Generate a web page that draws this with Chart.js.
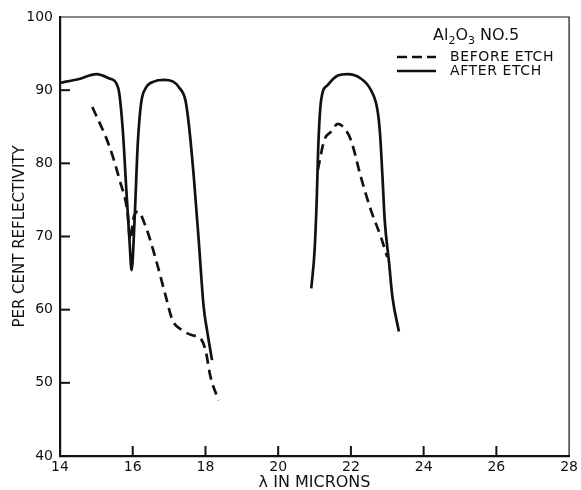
<!DOCTYPE html>
<html>
<head>
<meta charset="utf-8">
<script src="https://cdn.jsdelivr.net/npm/chart.js@4.4.1/dist/chart.umd.min.js"></script>
<style>
  html, body { margin: 0; padding: 0; background: #fff; }
</style>
</head>
<body>
<canvas id="myChart" width="581" height="490"></canvas>
<script>
// After etch, first band (solid)
const afterX1 = [14.0, 14.5, 15.0, 15.36, 15.6, 15.72, 15.83, 15.91, 15.97, 16.05, 16.14, 16.23, 16.36, 16.6, 16.86, 17.1, 17.27, 17.45, 17.55, 17.68, 17.82, 17.95, 18.05, 18.18];
const afterY1 = [91.0, 91.5, 92.2, 91.6, 90.3, 85.0, 75.9, 69.5, 65.4, 72.2, 82.8, 88.2, 90.3, 91.2, 91.4, 91.2, 90.4, 88.6, 85.0, 78.1, 69.1, 60.4, 57.0, 53.1];
// After etch, second band (solid)
const afterX2 = [20.91, 21.0, 21.06, 21.1, 21.18, 21.36, 21.64, 21.91, 22.27, 22.55, 22.73, 22.8, 22.87, 22.93, 23.05, 23.14, 23.32];
const afterY2 = [62.9, 68.0, 75.0, 82.0, 88.6, 90.7, 92.0, 92.2, 91.6, 90.0, 87.3, 84.1, 78.0, 72.2, 66.4, 61.8, 57.0];
// Before etch, first band (dashed)
const beforeX1 = [14.89, 15.36, 15.64, 15.86, 15.93, 16.02, 16.14, 16.36, 16.64, 16.91, 17.09, 17.36, 17.64, 17.86, 18.0, 18.14, 18.36];
const beforeY1 = [87.7, 82.3, 77.7, 73.2, 69.5, 72.5, 73.4, 71.3, 66.8, 61.8, 58.6, 57.2, 56.5, 56.1, 54.5, 50.8, 47.6];
// Before etch, second band (dashed)
const beforeX2 = [21.09, 21.27, 21.45, 21.64, 21.82, 22.0, 22.27, 22.55, 22.82, 23.0];
const beforeY2 = [79.1, 83.2, 84.3, 85.4, 84.8, 83.2, 78.2, 73.6, 70.0, 67.2];

const xTicks = [14, 16, 18, 20, 22, 24, 26, 28];
const yTicks = [40, 50, 60, 70, 80, 90, 100];

function pts(xv, yv) {
    return xv.map(function(x, i) { return {x: x, y: yv[i]}; });
}

function curve(xv, yv, dashed) {
    return {
        data: pts(xv, yv),
        borderColor: '#111',
        borderWidth: 2.7,
        borderDash: dashed ? [10, 6] : [],
        pointRadius: 0,
        cubicInterpolationMode: 'monotone',
        fill: false
    };
}

// cadre fin, petites graduations vers l'intérieur, légende dessinée à la main
const decor = {
    id: 'decor',
    afterDraw: function(chart) {
        const c = chart.ctx;
        const a = chart.chartArea;
        const sx = chart.scales.x, sy = chart.scales.y;
        c.save();
        c.strokeStyle = '#111';
        c.lineWidth = 1.2;
        c.beginPath();
        c.moveTo(a.left, a.top); c.lineTo(a.right, a.top); c.lineTo(a.right, a.bottom);
        c.stroke();

        c.lineWidth = 2;
        for (let i = 1; i < xTicks.length - 1; i++) {
            const p = sx.getPixelForValue(xTicks[i]);
            c.beginPath(); c.moveTo(p, a.bottom); c.lineTo(p, a.bottom - 10); c.stroke();
        }
        for (let i = 1; i < yTicks.length - 1; i++) {
            const p = sy.getPixelForValue(yTicks[i]);
            c.beginPath(); c.moveTo(a.left, p); c.lineTo(a.left + 10, p); c.stroke();
        }

        // titre de la légende
        c.fillStyle = '#111';
        c.textBaseline = 'alphabetic';
        c.textAlign = 'left';
        let x = 433;
        const big = '16px "DejaVu Sans"', small = '11px "DejaVu Sans"';
        [['Al', big, 0], ['2', small, 4], ['O', big, 0], ['3', small, 4], [' NO.5', big, 0]].forEach(function(s) {
            c.font = s[1];
            c.fillText(s[0], x, 40 + s[2]);
            x += c.measureText(s[0]).width;
        });

        c.lineWidth = 2.7;
        c.setLineDash([10, 5]);
        c.beginPath(); c.moveTo(397, 57); c.lineTo(436, 57); c.stroke();
        c.setLineDash([]);
        c.beginPath(); c.moveTo(397, 71); c.lineTo(436, 71); c.stroke();

        c.font = '14px "DejaVu Sans"';
        c.letterSpacing = '0.6px';
        c.textBaseline = 'middle';
        c.fillText('BEFORE ETCH', 450, 57);
        c.fillText('AFTER ETCH', 450, 71);
        c.restore();
    }
};

const ctx = document.getElementById('myChart').getContext('2d');
new Chart(ctx, {
    type: 'line',
    data: {
        datasets: [
            curve(afterX1, afterY1, false),
            curve(afterX2, afterY2, false),
            curve(beforeX1, beforeY1, true),
            curve(beforeX2, beforeY2, true)
        ]
    },
    options: {
        responsive: false,
        animation: false,
        layout: { padding: { left: 0, right: 7, top: 17, bottom: 0 } },
        plugins: { legend: { display: false }, tooltip: { enabled: false } },
        scales: {
            x: {
                type: 'linear',
                min: 14,
                max: 28,
                afterBuildTicks: function(s) { s.ticks = xTicks.map(function(v) { return {value: v}; }); },
                afterFit: function(s) { s.height = 34; },
                grid: { display: false, drawTicks: false },
                border: { display: true, color: '#111', width: 2.2 },
                ticks: { color: '#111', padding: 3, maxRotation: 0, font: { family: 'DejaVu Sans', size: 14 } },
                title: { display: true, text: 'λ IN MICRONS', color: '#111', padding: { top: 0, bottom: -2 }, font: { family: 'DejaVu Sans', size: 16 } }
            },
            y: {
                min: 40,
                max: 100,
                afterBuildTicks: function(s) { s.ticks = yTicks.map(function(v) { return {value: v}; }); },
                afterFit: function(s) { s.width = 60; },
                grid: { display: false, drawTicks: false },
                border: { display: true, color: '#111', width: 2.2 },
                ticks: { color: '#111', padding: 7, font: { family: 'DejaVu Sans', size: 14 } },
                title: { display: true, text: 'PER CENT REFLECTIVITY', color: '#111', padding: { top: 11, bottom: 0 }, font: { family: 'DejaVu Sans', size: 15 } }
            }
        }
    },
    plugins: [decor]
});
</script>
</body>
</html>
